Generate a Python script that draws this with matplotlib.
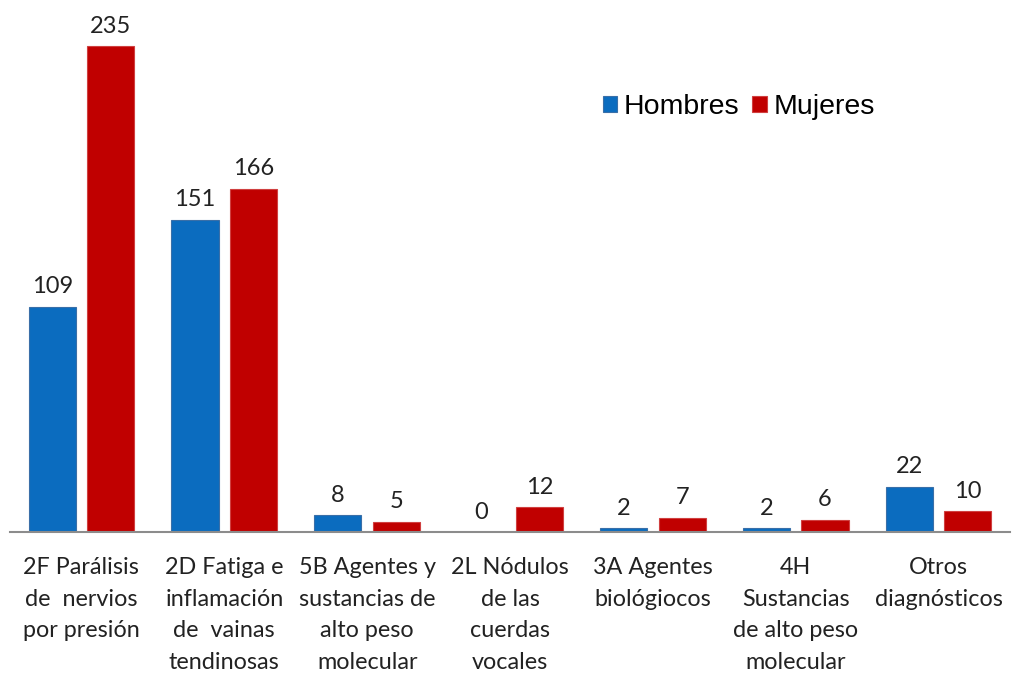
import numpy as np
import matplotlib.pyplot as plt

## data
categorias = ["2F Parálisis\nde  nervios\npor presión",
              "2D Fatiga e\ninflamación\nde  vainas\ntendinosas",
              "5B Agentes y\nsustancias de\nalto peso\nmolecular",
              "2L Nódulos\nde las\ncuerdas\nvocales",
              "3A Agentes\nbiológiocos",
              "4H\nSustancias\nde alto peso\nmolecular",
              "Otros\ndiagnósticos"]
hombres = [109, 151, 8, 0, 2, 2, 22]
mujeres = [235, 166, 5, 12, 7, 6, 10]

azul = '#0B6CBF'
rojo = '#C00000'
fuente = 'Lato'

fig = plt.figure(figsize=(10.15, 6.76), dpi=100)
ax = fig.add_axes([10/1015, 144/676, 1000/1015, 517/676])

x = np.arange(len(categorias))
w = 0.33
off = 0.205
b1 = ax.bar(x - off, hombres, w, color=azul, edgecolor='#3A6FA8', linewidth=0.8, label='Hombres')
b2 = ax.bar(x + off, mujeres, w, color=rojo, edgecolor='#D04040', linewidth=0.8, label='Mujeres')

# value labels above each bar
for bars in (b1, b2):
    for r in bars:
        h = r.get_height()
        ax.text(r.get_x() + r.get_width()/2, h + 4.5, str(int(h)), ha='center', va='bottom',
                fontsize=17, family=fuente, color='#222222')

ax.set_xlim(-0.5, len(categorias) - 0.5)
ax.set_ylim(0, 250)
ax.set_yticks([])
ax.set_xticks(x)
ax.set_xticklabels(categorias, fontsize=16.8, family=fuente, color='#222222', linespacing=1.62)
ax.tick_params(axis='x', length=0, pad=18)
for s in ['top', 'right', 'left']:
    ax.spines[s].set_visible(False)
ax.spines['bottom'].set_color('#8C8C8C')
ax.spines['bottom'].set_linewidth(1.5)

leg = fig.legend(loc='center left', bbox_to_anchor=(577/1015, 1 - 107/676), ncol=2, frameon=False,
                 handlelength=0.5, handleheight=0.5, handletextpad=0.25, columnspacing=0.45,
                 prop={'family': 'Liberation Sans', 'size': 20.5})

fig.savefig('out.png', dpi=100)
